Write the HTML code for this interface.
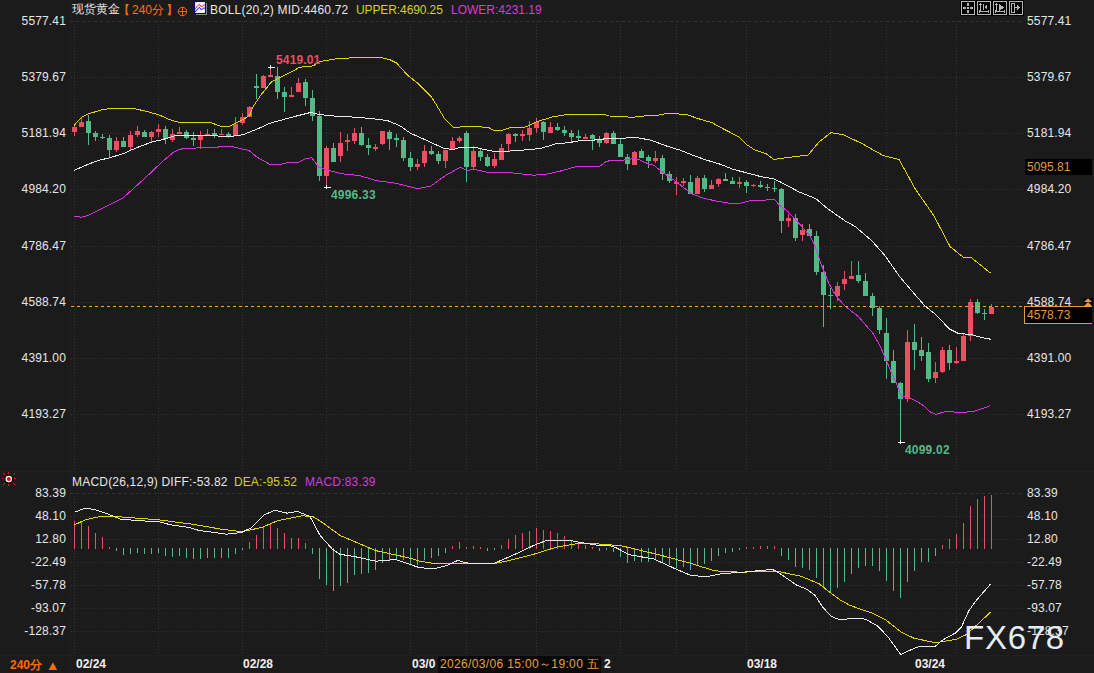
<!DOCTYPE html>
<html><head><meta charset="utf-8">
<style>
html,body{margin:0;padding:0;}
body{width:1094px;height:673px;overflow:hidden;background:#1b1b1b;position:relative;font-family:"Liberation Sans",sans-serif;font-size:12px;color:#e6e6e6;}
svg.chart{position:absolute;left:0;top:0;}
.t{position:absolute;white-space:nowrap;line-height:16px;}
.ll{position:absolute;right:1028px;letter-spacing:0.15px;white-space:nowrap;line-height:16px;text-align:right;}
.rl{position:absolute;left:1027px;letter-spacing:0.15px;white-space:nowrap;line-height:16px;}
.ic{position:absolute;top:1px;width:12px;height:12px;border:1px solid #a0a0a0;background:#000;box-shadow:0 0 0 1px #0a0a0a;}
</style></head><body>
<svg class="chart" width="1094" height="673" viewBox="0 0 1094 673">
<rect x="70" y="0" width="1" height="673" fill="#202020"/>
<rect x="0" y="471" width="1094" height="1" fill="#202020"/>
<rect x="0" y="655" width="1094" height="1" fill="#202020"/>
<g shape-rendering="crispEdges"><line x1="70" y1="21.5" x2="1024" y2="21.5" stroke="#343434" stroke-width="1" stroke-dasharray="3 3"/><line x1="71" y1="77.5" x2="1024" y2="77.5" stroke="#343434" stroke-width="1" stroke-dasharray="1 2"/><line x1="71" y1="133.5" x2="1024" y2="133.5" stroke="#343434" stroke-width="1" stroke-dasharray="1 2"/><line x1="71" y1="189.5" x2="1024" y2="189.5" stroke="#343434" stroke-width="1" stroke-dasharray="1 2"/><line x1="71" y1="246.5" x2="1024" y2="246.5" stroke="#343434" stroke-width="1" stroke-dasharray="1 2"/><line x1="71" y1="302.5" x2="1024" y2="302.5" stroke="#343434" stroke-width="1" stroke-dasharray="1 2"/><line x1="71" y1="358.5" x2="1024" y2="358.5" stroke="#343434" stroke-width="1" stroke-dasharray="1 2"/><line x1="71" y1="414.5" x2="1024" y2="414.5" stroke="#343434" stroke-width="1" stroke-dasharray="1 2"/><line x1="74.5" y1="21" x2="74.5" y2="469" stroke="#343434" stroke-width="1" stroke-dasharray="1 2"/><line x1="158.5" y1="21" x2="158.5" y2="469" stroke="#343434" stroke-width="1" stroke-dasharray="1 2"/><line x1="242.5" y1="21" x2="242.5" y2="469" stroke="#343434" stroke-width="1" stroke-dasharray="1 2"/><line x1="326.5" y1="21" x2="326.5" y2="469" stroke="#343434" stroke-width="1" stroke-dasharray="1 2"/><line x1="410.5" y1="21" x2="410.5" y2="469" stroke="#343434" stroke-width="1" stroke-dasharray="1 2"/><line x1="466.5" y1="21" x2="466.5" y2="469" stroke="#343434" stroke-width="1" stroke-dasharray="1 2"/><line x1="536.5" y1="21" x2="536.5" y2="469" stroke="#343434" stroke-width="1" stroke-dasharray="1 2"/><line x1="620.5" y1="21" x2="620.5" y2="469" stroke="#343434" stroke-width="1" stroke-dasharray="1 2"/><line x1="676.5" y1="21" x2="676.5" y2="469" stroke="#343434" stroke-width="1" stroke-dasharray="1 2"/><line x1="746.5" y1="21" x2="746.5" y2="469" stroke="#343434" stroke-width="1" stroke-dasharray="1 2"/><line x1="830.5" y1="21" x2="830.5" y2="469" stroke="#343434" stroke-width="1" stroke-dasharray="1 2"/><line x1="886.5" y1="21" x2="886.5" y2="469" stroke="#343434" stroke-width="1" stroke-dasharray="1 2"/><line x1="956.5" y1="21" x2="956.5" y2="469" stroke="#343434" stroke-width="1" stroke-dasharray="1 2"/><line x1="70" y1="493.5" x2="1024" y2="493.5" stroke="#343434" stroke-width="1" stroke-dasharray="3 3"/><line x1="71" y1="516.5" x2="1024" y2="516.5" stroke="#343434" stroke-width="1" stroke-dasharray="1 2"/><line x1="71" y1="539.5" x2="1024" y2="539.5" stroke="#343434" stroke-width="1" stroke-dasharray="1 2"/><line x1="71" y1="562.5" x2="1024" y2="562.5" stroke="#343434" stroke-width="1" stroke-dasharray="1 2"/><line x1="71" y1="585.5" x2="1024" y2="585.5" stroke="#343434" stroke-width="1" stroke-dasharray="1 2"/><line x1="71" y1="608.5" x2="1024" y2="608.5" stroke="#343434" stroke-width="1" stroke-dasharray="1 2"/><line x1="71" y1="631.5" x2="1024" y2="631.5" stroke="#343434" stroke-width="1" stroke-dasharray="1 2"/><line x1="74.5" y1="493" x2="74.5" y2="654" stroke="#343434" stroke-width="1" stroke-dasharray="1 2"/><line x1="158.5" y1="493" x2="158.5" y2="654" stroke="#343434" stroke-width="1" stroke-dasharray="1 2"/><line x1="242.5" y1="493" x2="242.5" y2="654" stroke="#343434" stroke-width="1" stroke-dasharray="1 2"/><line x1="326.5" y1="493" x2="326.5" y2="654" stroke="#343434" stroke-width="1" stroke-dasharray="1 2"/><line x1="410.5" y1="493" x2="410.5" y2="654" stroke="#343434" stroke-width="1" stroke-dasharray="1 2"/><line x1="466.5" y1="493" x2="466.5" y2="654" stroke="#343434" stroke-width="1" stroke-dasharray="1 2"/><line x1="536.5" y1="493" x2="536.5" y2="654" stroke="#343434" stroke-width="1" stroke-dasharray="1 2"/><line x1="620.5" y1="493" x2="620.5" y2="654" stroke="#343434" stroke-width="1" stroke-dasharray="1 2"/><line x1="676.5" y1="493" x2="676.5" y2="654" stroke="#343434" stroke-width="1" stroke-dasharray="1 2"/><line x1="746.5" y1="493" x2="746.5" y2="654" stroke="#343434" stroke-width="1" stroke-dasharray="1 2"/><line x1="830.5" y1="493" x2="830.5" y2="654" stroke="#343434" stroke-width="1" stroke-dasharray="1 2"/><line x1="886.5" y1="493" x2="886.5" y2="654" stroke="#343434" stroke-width="1" stroke-dasharray="1 2"/><line x1="956.5" y1="493" x2="956.5" y2="654" stroke="#343434" stroke-width="1" stroke-dasharray="1 2"/><line x1="1025.5" y1="21" x2="1025.5" y2="469" stroke="#232323" stroke-width="1" stroke-dasharray="1 10"/><line x1="1025.5" y1="493" x2="1025.5" y2="654" stroke="#232323" stroke-width="1" stroke-dasharray="1 10"/></g>
<g shape-rendering="crispEdges"><rect x="74" y="124" width="1" height="12" fill="#ea5062"/><rect x="72" y="127" width="5" height="5" fill="#ea5062"/><rect x="81" y="118" width="1" height="9" fill="#ea5062"/><rect x="79" y="122" width="5" height="5" fill="#ea5062"/><rect x="88" y="115" width="1" height="30" fill="#54b987"/><rect x="86" y="121" width="5" height="12" fill="#54b987"/><rect x="95" y="131" width="1" height="10" fill="#54b987"/><rect x="93" y="133" width="5" height="4" fill="#54b987"/><rect x="102" y="134" width="1" height="5" fill="#54b987"/><rect x="100" y="137" width="5" height="1" fill="#54b987"/><rect x="109" y="135" width="1" height="23" fill="#54b987"/><rect x="107" y="138" width="5" height="12" fill="#54b987"/><rect x="116" y="137" width="1" height="15" fill="#ea5062"/><rect x="114" y="141" width="5" height="9" fill="#ea5062"/><rect x="123" y="137" width="1" height="10" fill="#54b987"/><rect x="121" y="141" width="5" height="6" fill="#54b987"/><rect x="130" y="131" width="1" height="19" fill="#ea5062"/><rect x="128" y="135" width="5" height="12" fill="#ea5062"/><rect x="137" y="126" width="1" height="11" fill="#ea5062"/><rect x="135" y="131" width="5" height="4" fill="#ea5062"/><rect x="144" y="130" width="1" height="7" fill="#54b987"/><rect x="142" y="132" width="5" height="5" fill="#54b987"/><rect x="151" y="131" width="1" height="11" fill="#ea5062"/><rect x="149" y="132" width="5" height="5" fill="#ea5062"/><rect x="158" y="124" width="1" height="13" fill="#ea5062"/><rect x="156" y="129" width="5" height="3" fill="#ea5062"/><rect x="165" y="126" width="1" height="18" fill="#54b987"/><rect x="163" y="129" width="5" height="10" fill="#54b987"/><rect x="172" y="129" width="1" height="13" fill="#ea5062"/><rect x="170" y="134" width="5" height="6" fill="#ea5062"/><rect x="179" y="127" width="1" height="7" fill="#ea5062"/><rect x="177" y="132" width="5" height="2" fill="#ea5062"/><rect x="186" y="130" width="1" height="9" fill="#54b987"/><rect x="184" y="132" width="5" height="6" fill="#54b987"/><rect x="193" y="132" width="1" height="14" fill="#54b987"/><rect x="191" y="138" width="5" height="2" fill="#54b987"/><rect x="200" y="131" width="1" height="18" fill="#ea5062"/><rect x="198" y="136" width="5" height="4" fill="#ea5062"/><rect x="207" y="129" width="1" height="6" fill="#ea5062"/><rect x="205" y="134" width="5" height="1" fill="#ea5062"/><rect x="214" y="129" width="1" height="9" fill="#54b987"/><rect x="212" y="133" width="5" height="2" fill="#54b987"/><rect x="221" y="129" width="1" height="6" fill="#ea5062"/><rect x="219" y="134" width="5" height="1" fill="#ea5062"/><rect x="228" y="132" width="1" height="6" fill="#54b987"/><rect x="226" y="134" width="5" height="3" fill="#54b987"/><rect x="235" y="117" width="1" height="19" fill="#ea5062"/><rect x="233" y="124" width="5" height="12" fill="#ea5062"/><rect x="242" y="113" width="1" height="12" fill="#ea5062"/><rect x="240" y="117" width="5" height="6" fill="#ea5062"/><rect x="249" y="106" width="1" height="11" fill="#ea5062"/><rect x="247" y="107" width="5" height="10" fill="#ea5062"/><rect x="256" y="74" width="1" height="25" fill="#54b987"/><rect x="254" y="86" width="5" height="2" fill="#54b987"/><rect x="263" y="75" width="1" height="13" fill="#ea5062"/><rect x="261" y="76" width="5" height="12" fill="#ea5062"/><rect x="270" y="68" width="1" height="9" fill="#ea5062"/><rect x="268" y="75" width="5" height="2" fill="#ea5062"/><rect x="277" y="67" width="1" height="32" fill="#54b987"/><rect x="275" y="76" width="5" height="16" fill="#54b987"/><rect x="284" y="87" width="1" height="25" fill="#54b987"/><rect x="282" y="92" width="5" height="5" fill="#54b987"/><rect x="291" y="87" width="1" height="10" fill="#ea5062"/><rect x="289" y="95" width="5" height="2" fill="#ea5062"/><rect x="298" y="78" width="1" height="14" fill="#ea5062"/><rect x="296" y="83" width="5" height="9" fill="#ea5062"/><rect x="305" y="79" width="1" height="27" fill="#54b987"/><rect x="303" y="82" width="5" height="16" fill="#54b987"/><rect x="312" y="90" width="1" height="31" fill="#54b987"/><rect x="310" y="98" width="5" height="18" fill="#54b987"/><rect x="319" y="111" width="1" height="70" fill="#54b987"/><rect x="317" y="116" width="5" height="60" fill="#54b987"/><rect x="326" y="146" width="1" height="41" fill="#ea5062"/><rect x="324" y="148" width="5" height="28" fill="#ea5062"/><rect x="333" y="143" width="1" height="19" fill="#54b987"/><rect x="331" y="148" width="5" height="14" fill="#54b987"/><rect x="340" y="132" width="1" height="30" fill="#ea5062"/><rect x="338" y="143" width="5" height="13" fill="#ea5062"/><rect x="347" y="134" width="1" height="17" fill="#ea5062"/><rect x="345" y="140" width="5" height="2" fill="#ea5062"/><rect x="354" y="128" width="1" height="16" fill="#ea5062"/><rect x="352" y="133" width="5" height="8" fill="#ea5062"/><rect x="361" y="127" width="1" height="19" fill="#54b987"/><rect x="359" y="133" width="5" height="12" fill="#54b987"/><rect x="368" y="138" width="1" height="17" fill="#54b987"/><rect x="366" y="145" width="5" height="3" fill="#54b987"/><rect x="375" y="144" width="1" height="7" fill="#ea5062"/><rect x="373" y="147" width="5" height="2" fill="#ea5062"/><rect x="382" y="131" width="1" height="14" fill="#ea5062"/><rect x="380" y="131" width="5" height="13" fill="#ea5062"/><rect x="389" y="130" width="1" height="20" fill="#54b987"/><rect x="387" y="132" width="5" height="7" fill="#54b987"/><rect x="396" y="134" width="1" height="13" fill="#54b987"/><rect x="394" y="138" width="5" height="2" fill="#54b987"/><rect x="403" y="137" width="1" height="24" fill="#54b987"/><rect x="401" y="140" width="5" height="18" fill="#54b987"/><rect x="410" y="152" width="1" height="19" fill="#54b987"/><rect x="408" y="158" width="5" height="9" fill="#54b987"/><rect x="417" y="159" width="1" height="11" fill="#ea5062"/><rect x="415" y="164" width="5" height="3" fill="#ea5062"/><rect x="424" y="145" width="1" height="22" fill="#ea5062"/><rect x="422" y="151" width="5" height="12" fill="#ea5062"/><rect x="431" y="146" width="1" height="9" fill="#54b987"/><rect x="429" y="151" width="5" height="3" fill="#54b987"/><rect x="438" y="151" width="1" height="13" fill="#54b987"/><rect x="436" y="154" width="5" height="7" fill="#54b987"/><rect x="445" y="150" width="1" height="18" fill="#ea5062"/><rect x="443" y="150" width="5" height="11" fill="#ea5062"/><rect x="452" y="137" width="1" height="12" fill="#ea5062"/><rect x="450" y="141" width="5" height="8" fill="#ea5062"/><rect x="459" y="136" width="1" height="7" fill="#ea5062"/><rect x="457" y="138" width="5" height="3" fill="#ea5062"/><rect x="466" y="131" width="1" height="51" fill="#54b987"/><rect x="464" y="133" width="5" height="34" fill="#54b987"/><rect x="473" y="146" width="1" height="23" fill="#ea5062"/><rect x="471" y="151" width="5" height="16" fill="#ea5062"/><rect x="480" y="149" width="1" height="12" fill="#54b987"/><rect x="478" y="151" width="5" height="6" fill="#54b987"/><rect x="487" y="154" width="1" height="13" fill="#54b987"/><rect x="485" y="157" width="5" height="9" fill="#54b987"/><rect x="494" y="153" width="1" height="15" fill="#ea5062"/><rect x="492" y="159" width="5" height="7" fill="#ea5062"/><rect x="501" y="144" width="1" height="16" fill="#ea5062"/><rect x="499" y="148" width="5" height="12" fill="#ea5062"/><rect x="508" y="133" width="1" height="19" fill="#ea5062"/><rect x="506" y="134" width="5" height="10" fill="#ea5062"/><rect x="515" y="133" width="1" height="9" fill="#54b987"/><rect x="513" y="134" width="5" height="2" fill="#54b987"/><rect x="522" y="130" width="1" height="11" fill="#ea5062"/><rect x="520" y="134" width="5" height="2" fill="#ea5062"/><rect x="529" y="121" width="1" height="20" fill="#ea5062"/><rect x="527" y="128" width="5" height="7" fill="#ea5062"/><rect x="536" y="118" width="1" height="15" fill="#ea5062"/><rect x="534" y="122" width="5" height="6" fill="#ea5062"/><rect x="543" y="121" width="1" height="19" fill="#54b987"/><rect x="541" y="122" width="5" height="10" fill="#54b987"/><rect x="550" y="122" width="1" height="11" fill="#ea5062"/><rect x="548" y="127" width="5" height="6" fill="#ea5062"/><rect x="557" y="123" width="1" height="8" fill="#54b987"/><rect x="555" y="127" width="5" height="3" fill="#54b987"/><rect x="564" y="126" width="1" height="10" fill="#54b987"/><rect x="562" y="130" width="5" height="3" fill="#54b987"/><rect x="571" y="130" width="1" height="12" fill="#54b987"/><rect x="569" y="133" width="5" height="4" fill="#54b987"/><rect x="578" y="130" width="1" height="11" fill="#54b987"/><rect x="576" y="136" width="5" height="2" fill="#54b987"/><rect x="585" y="134" width="1" height="5" fill="#ea5062"/><rect x="583" y="137" width="5" height="2" fill="#ea5062"/><rect x="592" y="134" width="1" height="16" fill="#54b987"/><rect x="590" y="135" width="5" height="4" fill="#54b987"/><rect x="599" y="136" width="1" height="11" fill="#54b987"/><rect x="597" y="140" width="5" height="3" fill="#54b987"/><rect x="606" y="132" width="1" height="12" fill="#ea5062"/><rect x="604" y="133" width="5" height="10" fill="#ea5062"/><rect x="613" y="131" width="1" height="13" fill="#54b987"/><rect x="611" y="133" width="5" height="11" fill="#54b987"/><rect x="620" y="139" width="1" height="18" fill="#54b987"/><rect x="618" y="144" width="5" height="13" fill="#54b987"/><rect x="627" y="154" width="1" height="16" fill="#54b987"/><rect x="625" y="157" width="5" height="7" fill="#54b987"/><rect x="634" y="151" width="1" height="14" fill="#ea5062"/><rect x="632" y="152" width="5" height="13" fill="#ea5062"/><rect x="641" y="149" width="1" height="9" fill="#54b987"/><rect x="639" y="151" width="5" height="7" fill="#54b987"/><rect x="648" y="155" width="1" height="13" fill="#54b987"/><rect x="646" y="157" width="5" height="4" fill="#54b987"/><rect x="655" y="151" width="1" height="12" fill="#ea5062"/><rect x="653" y="158" width="5" height="3" fill="#ea5062"/><rect x="662" y="155" width="1" height="25" fill="#54b987"/><rect x="660" y="158" width="5" height="16" fill="#54b987"/><rect x="669" y="171" width="1" height="12" fill="#54b987"/><rect x="667" y="174" width="5" height="7" fill="#54b987"/><rect x="676" y="177" width="1" height="18" fill="#ea5062"/><rect x="674" y="182" width="5" height="2" fill="#ea5062"/><rect x="683" y="178" width="1" height="8" fill="#ea5062"/><rect x="681" y="181" width="5" height="2" fill="#ea5062"/><rect x="690" y="175" width="1" height="19" fill="#54b987"/><rect x="688" y="182" width="5" height="12" fill="#54b987"/><rect x="697" y="176" width="1" height="18" fill="#ea5062"/><rect x="695" y="178" width="5" height="16" fill="#ea5062"/><rect x="704" y="175" width="1" height="17" fill="#54b987"/><rect x="702" y="178" width="5" height="11" fill="#54b987"/><rect x="711" y="180" width="1" height="9" fill="#ea5062"/><rect x="709" y="185" width="5" height="4" fill="#ea5062"/><rect x="718" y="178" width="1" height="9" fill="#ea5062"/><rect x="716" y="179" width="5" height="5" fill="#ea5062"/><rect x="725" y="173" width="1" height="8" fill="#54b987"/><rect x="723" y="179" width="5" height="2" fill="#54b987"/><rect x="732" y="177" width="1" height="7" fill="#54b987"/><rect x="730" y="181" width="5" height="3" fill="#54b987"/><rect x="739" y="177" width="1" height="11" fill="#ea5062"/><rect x="737" y="182" width="5" height="2" fill="#ea5062"/><rect x="746" y="180" width="1" height="13" fill="#54b987"/><rect x="744" y="182" width="5" height="4" fill="#54b987"/><rect x="753" y="184" width="1" height="3" fill="#ea5062"/><rect x="751" y="185" width="5" height="1" fill="#ea5062"/><rect x="760" y="181" width="1" height="7" fill="#54b987"/><rect x="758" y="185" width="5" height="2" fill="#54b987"/><rect x="767" y="184" width="1" height="7" fill="#54b987"/><rect x="765" y="187" width="5" height="1" fill="#54b987"/><rect x="774" y="181" width="1" height="11" fill="#54b987"/><rect x="772" y="188" width="5" height="1" fill="#54b987"/><rect x="781" y="188" width="1" height="45" fill="#54b987"/><rect x="779" y="189" width="5" height="32" fill="#54b987"/><rect x="788" y="214" width="1" height="13" fill="#ea5062"/><rect x="786" y="218" width="5" height="3" fill="#ea5062"/><rect x="795" y="214" width="1" height="27" fill="#54b987"/><rect x="793" y="218" width="5" height="20" fill="#54b987"/><rect x="802" y="224" width="1" height="17" fill="#ea5062"/><rect x="800" y="230" width="5" height="5" fill="#ea5062"/><rect x="809" y="224" width="1" height="12" fill="#54b987"/><rect x="807" y="229" width="5" height="7" fill="#54b987"/><rect x="816" y="231" width="1" height="44" fill="#54b987"/><rect x="814" y="236" width="5" height="36" fill="#54b987"/><rect x="823" y="265" width="1" height="62" fill="#54b987"/><rect x="821" y="272" width="5" height="23" fill="#54b987"/><rect x="830" y="288" width="1" height="21" fill="#54b987"/><rect x="828" y="295" width="5" height="1" fill="#54b987"/><rect x="837" y="282" width="1" height="19" fill="#ea5062"/><rect x="835" y="286" width="5" height="10" fill="#ea5062"/><rect x="844" y="271" width="1" height="19" fill="#ea5062"/><rect x="842" y="279" width="5" height="5" fill="#ea5062"/><rect x="851" y="261" width="1" height="18" fill="#ea5062"/><rect x="849" y="276" width="5" height="3" fill="#ea5062"/><rect x="858" y="261" width="1" height="22" fill="#54b987"/><rect x="856" y="275" width="5" height="6" fill="#54b987"/><rect x="865" y="273" width="1" height="23" fill="#54b987"/><rect x="863" y="281" width="5" height="15" fill="#54b987"/><rect x="872" y="293" width="1" height="23" fill="#54b987"/><rect x="870" y="296" width="5" height="12" fill="#54b987"/><rect x="879" y="306" width="1" height="28" fill="#54b987"/><rect x="877" y="308" width="5" height="22" fill="#54b987"/><rect x="886" y="318" width="1" height="61" fill="#54b987"/><rect x="884" y="333" width="5" height="28" fill="#54b987"/><rect x="893" y="350" width="1" height="33" fill="#54b987"/><rect x="891" y="361" width="5" height="22" fill="#54b987"/><rect x="900" y="382" width="1" height="60" fill="#54b987"/><rect x="898" y="383" width="5" height="16" fill="#54b987"/><rect x="907" y="330" width="1" height="72" fill="#ea5062"/><rect x="905" y="342" width="5" height="57" fill="#ea5062"/><rect x="914" y="324" width="1" height="46" fill="#54b987"/><rect x="912" y="342" width="5" height="8" fill="#54b987"/><rect x="921" y="337" width="1" height="24" fill="#54b987"/><rect x="919" y="350" width="5" height="6" fill="#54b987"/><rect x="928" y="343" width="1" height="39" fill="#54b987"/><rect x="926" y="352" width="5" height="27" fill="#54b987"/><rect x="935" y="362" width="1" height="21" fill="#ea5062"/><rect x="933" y="372" width="5" height="6" fill="#ea5062"/><rect x="942" y="347" width="1" height="26" fill="#ea5062"/><rect x="940" y="350" width="5" height="22" fill="#ea5062"/><rect x="949" y="345" width="1" height="25" fill="#54b987"/><rect x="947" y="350" width="5" height="13" fill="#54b987"/><rect x="956" y="347" width="1" height="17" fill="#ea5062"/><rect x="954" y="361" width="5" height="2" fill="#ea5062"/><rect x="963" y="333" width="1" height="28" fill="#ea5062"/><rect x="961" y="336" width="5" height="25" fill="#ea5062"/><rect x="970" y="299" width="1" height="42" fill="#ea5062"/><rect x="968" y="302" width="5" height="34" fill="#ea5062"/><rect x="977" y="299" width="1" height="15" fill="#54b987"/><rect x="975" y="302" width="5" height="11" fill="#54b987"/><rect x="984" y="309" width="1" height="11" fill="#54b987"/><rect x="982" y="313" width="5" height="1" fill="#54b987"/><rect x="991" y="304" width="1" height="10" fill="#ea5062"/><rect x="989" y="307" width="5" height="7" fill="#ea5062"/></g>
<polyline points="74.0,125.5 81.5,117.3 88.1,114.0 101.3,109.9 112.8,108.2 132.5,108.2 145.7,111.2 158.8,114.8 172.0,120.6 178.6,122.2 209.9,122.2 219.7,126.0 229.6,126.3 234.5,123.9 244.4,118.9 250.0,114.5 252.7,107.2 260.8,95.1 271.5,81.8 283.5,75.7 292.9,71.0 299.6,67.3 313.2,65.9 319.7,61.5 337.3,58.6 365.8,57.1 379.0,57.1 390.0,59.7 396.5,63.0 407.5,75.1 418.5,83.9 431.6,97.0 444.8,119.0 453.6,127.3 466.7,126.7 475.9,126.4 489.0,127.8 493.7,130.2 502.0,130.2 511.5,127.3 523.4,127.3 528.2,126.1 535.3,122.2 548.0,118.3 553.5,116.6 567.8,114.5 582.0,114.0 602.2,114.0 609.3,116.0 620.0,116.5 632.3,117.3 640.0,116.3 658.7,115.0 666.7,113.4 686.8,114.4 696.1,118.0 712.2,122.7 725.6,130.1 738.9,136.8 747.0,144.8 755.0,150.1 765.7,153.5 773.7,159.5 786.8,157.6 808.2,155.0 818.9,142.1 830.9,132.7 842.9,134.6 861.7,143.4 883.1,155.5 899.1,159.5 915.2,188.9 933.9,215.7 950.0,246.5 963.3,257.2 971.4,257.7 990.6,273.2" fill="none" stroke="#e1d400" stroke-width="1" shape-rendering="crispEdges"/>
<polyline points="74.0,170.3 88.0,164.4 97.4,160.7 110.0,157.7 124.8,153.1 130.0,150.5 138.6,147.0 154.0,141.2 158.9,140.6 166.0,138.6 175.9,135.5 216.9,135.5 218.7,136.4 231.2,136.4 243.4,134.6 248.2,132.6 256.8,129.2 270.1,123.2 283.5,119.5 296.9,115.9 311.0,112.4 318.2,114.4 335.3,116.1 359.2,117.4 376.3,119.1 387.8,120.7 400.0,125.8 410.7,133.4 420.0,137.4 444.1,148.5 453.5,149.4 460.2,147.4 474.9,147.4 493.6,151.4 504.3,151.4 527.0,149.8 540.0,148.5 548.0,146.3 555.9,143.7 567.8,142.8 582.0,140.4 601.0,139.8 605.8,138.3 620.0,138.5 634.8,137.3 650.7,140.1 666.7,146.1 680.1,150.1 693.5,155.5 706.8,160.2 720.2,164.2 733.6,169.5 747.0,172.9 760.3,176.5 773.7,178.9 780.0,181.8 799.4,192.1 815.8,198.6 827.2,208.4 845.2,221.0 855.0,226.4 871.4,240.3 884.5,255.0 900.0,277.1 910.8,289.7 924.2,305.1 936.2,315.1 949.4,328.9 958.3,333.4 971.7,334.6 980.6,337.3 991.0,339.3" fill="none" stroke="#e8e8e8" stroke-width="1" shape-rendering="crispEdges"/>
<polyline points="74.0,216.4 81.4,217.1 88.3,215.5 102.9,208.2 122.4,198.5 133.3,188.7 148.0,175.3 161.4,162.5 173.5,152.2 179.6,149.1 190.0,148.6 200.0,147.6 217.8,147.6 219.0,146.4 231.5,146.4 241.6,149.0 248.7,150.4 257.0,157.1 270.1,164.5 280.8,164.5 287.9,162.3 298.6,162.3 304.6,159.1 311.7,157.6 318.8,167.1 328.5,170.4 342.1,173.8 359.2,175.5 376.3,180.6 392.0,182.7 400.0,184.2 417.4,188.6 430.7,186.2 445.5,175.5 460.2,167.2 466.8,170.4 474.9,169.5 487.0,172.2 511.0,172.8 533.7,175.2 548.0,173.9 561.8,170.7 577.3,166.3 599.8,166.3 605.8,161.8 610.5,160.4 620.0,160.5 634.7,158.5 639.4,159.7 649.6,164.5 653.7,165.2 664.4,173.5 676.3,181.8 691.7,193.9 704.0,198.3 715.9,201.0 730.1,203.4 739.6,203.4 749.1,201.0 763.4,200.4 773.4,199.1 775.3,200.2 780.0,205.7 788.0,211.7 798.9,223.2 810.0,235.7 815.6,247.7 821.2,264.5 828.6,283.0 836.0,296.1 845.3,306.3 858.3,316.5 868.0,327.7 873.4,333.9 880.0,345.9 890.5,370.3 896.8,384.3 901.5,396.5 909.3,397.6 918.6,402.3 925.0,406.9 929.4,411.5 936.0,414.4 942.6,412.4 946.9,411.3 952.8,411.3 954.3,412.4 966.7,412.4 968.1,411.3 974.0,411.3 979.1,409.5 983.5,408.4 990.1,405.5" fill="none" stroke="#d535d8" stroke-width="1" shape-rendering="crispEdges"/>
<g shape-rendering="crispEdges" fill="#f0f0f0"><rect x="268" y="67" width="7" height="1"/><rect x="270" y="65" width="1" height="4"/><rect x="324" y="187" width="7" height="1"/><rect x="326" y="185" width="1" height="4"/><rect x="898" y="442" width="7" height="1"/><rect x="900" y="440" width="1" height="4"/></g>
<line x1="71" y1="306.5" x2="1024" y2="306.5" stroke="#eea23c" stroke-width="1" stroke-dasharray="3 3" shape-rendering="crispEdges"/>
<g shape-rendering="crispEdges"><rect x="74" y="521" width="1" height="28" fill="#ea5062"/><rect x="81" y="522" width="1" height="27" fill="#ea5062"/><rect x="88" y="526" width="1" height="23" fill="#ea5062"/><rect x="95" y="533" width="1" height="16" fill="#ea5062"/><rect x="102" y="537" width="1" height="12" fill="#ea5062"/><rect x="109" y="547" width="1" height="2" fill="#ea5062"/><rect x="116" y="548" width="1" height="3" fill="#54b987"/><rect x="123" y="548" width="1" height="7" fill="#54b987"/><rect x="130" y="548" width="1" height="6" fill="#54b987"/><rect x="137" y="548" width="1" height="5" fill="#54b987"/><rect x="144" y="548" width="1" height="6" fill="#54b987"/><rect x="151" y="548" width="1" height="6" fill="#54b987"/><rect x="158" y="548" width="1" height="5" fill="#54b987"/><rect x="165" y="548" width="1" height="8" fill="#54b987"/><rect x="172" y="548" width="1" height="9" fill="#54b987"/><rect x="179" y="548" width="1" height="8" fill="#54b987"/><rect x="186" y="548" width="1" height="10" fill="#54b987"/><rect x="193" y="548" width="1" height="11" fill="#54b987"/><rect x="200" y="548" width="1" height="11" fill="#54b987"/><rect x="207" y="548" width="1" height="10" fill="#54b987"/><rect x="214" y="548" width="1" height="10" fill="#54b987"/><rect x="221" y="548" width="1" height="10" fill="#54b987"/><rect x="228" y="548" width="1" height="10" fill="#54b987"/><rect x="235" y="548" width="1" height="6" fill="#54b987"/><rect x="242" y="548" width="1" height="2" fill="#54b987"/><rect x="249" y="542" width="1" height="7" fill="#ea5062"/><rect x="256" y="535" width="1" height="14" fill="#ea5062"/><rect x="263" y="527" width="1" height="22" fill="#ea5062"/><rect x="270" y="523" width="1" height="26" fill="#ea5062"/><rect x="277" y="528" width="1" height="21" fill="#ea5062"/><rect x="284" y="533" width="1" height="16" fill="#ea5062"/><rect x="291" y="538" width="1" height="11" fill="#ea5062"/><rect x="298" y="538" width="1" height="11" fill="#ea5062"/><rect x="305" y="543" width="1" height="6" fill="#ea5062"/><rect x="312" y="548" width="1" height="6" fill="#54b987"/><rect x="319" y="548" width="1" height="31" fill="#54b987"/><rect x="326" y="548" width="1" height="37" fill="#54b987"/><rect x="333" y="548" width="1" height="43" fill="#54b987"/><rect x="340" y="548" width="1" height="38" fill="#54b987"/><rect x="347" y="548" width="1" height="35" fill="#54b987"/><rect x="354" y="548" width="1" height="27" fill="#54b987"/><rect x="361" y="548" width="1" height="26" fill="#54b987"/><rect x="368" y="548" width="1" height="25" fill="#54b987"/><rect x="375" y="548" width="1" height="22" fill="#54b987"/><rect x="382" y="548" width="1" height="15" fill="#54b987"/><rect x="389" y="548" width="1" height="12" fill="#54b987"/><rect x="396" y="548" width="1" height="11" fill="#54b987"/><rect x="403" y="548" width="1" height="12" fill="#54b987"/><rect x="410" y="548" width="1" height="16" fill="#54b987"/><rect x="417" y="548" width="1" height="17" fill="#54b987"/><rect x="424" y="548" width="1" height="12" fill="#54b987"/><rect x="431" y="548" width="1" height="10" fill="#54b987"/><rect x="438" y="548" width="1" height="8" fill="#54b987"/><rect x="445" y="548" width="1" height="5" fill="#54b987"/><rect x="452" y="546" width="1" height="3" fill="#ea5062"/><rect x="459" y="542" width="1" height="7" fill="#ea5062"/><rect x="466" y="547" width="1" height="2" fill="#ea5062"/><rect x="473" y="546" width="1" height="3" fill="#ea5062"/><rect x="480" y="547" width="1" height="2" fill="#ea5062"/><rect x="487" y="548" width="1" height="3" fill="#54b987"/><rect x="494" y="548" width="1" height="2" fill="#54b987"/><rect x="501" y="545" width="1" height="4" fill="#ea5062"/><rect x="508" y="539" width="1" height="10" fill="#ea5062"/><rect x="515" y="535" width="1" height="14" fill="#ea5062"/><rect x="522" y="533" width="1" height="16" fill="#ea5062"/><rect x="529" y="531" width="1" height="18" fill="#ea5062"/><rect x="536" y="528" width="1" height="21" fill="#ea5062"/><rect x="543" y="530" width="1" height="19" fill="#ea5062"/><rect x="550" y="531" width="1" height="18" fill="#ea5062"/><rect x="557" y="533" width="1" height="16" fill="#ea5062"/><rect x="564" y="536" width="1" height="13" fill="#ea5062"/><rect x="571" y="540" width="1" height="9" fill="#ea5062"/><rect x="578" y="543" width="1" height="6" fill="#ea5062"/><rect x="585" y="545" width="1" height="4" fill="#ea5062"/><rect x="592" y="547" width="1" height="2" fill="#ea5062"/><rect x="599" y="548" width="1" height="3" fill="#54b987"/><rect x="606" y="548" width="1" height="2" fill="#54b987"/><rect x="613" y="548" width="1" height="4" fill="#54b987"/><rect x="620" y="548" width="1" height="9" fill="#54b987"/><rect x="627" y="548" width="1" height="15" fill="#54b987"/><rect x="634" y="548" width="1" height="13" fill="#54b987"/><rect x="641" y="548" width="1" height="14" fill="#54b987"/><rect x="648" y="548" width="1" height="14" fill="#54b987"/><rect x="655" y="548" width="1" height="12" fill="#54b987"/><rect x="662" y="548" width="1" height="15" fill="#54b987"/><rect x="669" y="548" width="1" height="17" fill="#54b987"/><rect x="676" y="548" width="1" height="20" fill="#54b987"/><rect x="683" y="548" width="1" height="19" fill="#54b987"/><rect x="690" y="548" width="1" height="22" fill="#54b987"/><rect x="697" y="548" width="1" height="17" fill="#54b987"/><rect x="704" y="548" width="1" height="16" fill="#54b987"/><rect x="711" y="548" width="1" height="13" fill="#54b987"/><rect x="718" y="548" width="1" height="8" fill="#54b987"/><rect x="725" y="548" width="1" height="5" fill="#54b987"/><rect x="732" y="548" width="1" height="4" fill="#54b987"/><rect x="739" y="548" width="1" height="2" fill="#54b987"/><rect x="746" y="547" width="1" height="2" fill="#ea5062"/><rect x="753" y="547" width="1" height="2" fill="#ea5062"/><rect x="760" y="546" width="1" height="3" fill="#ea5062"/><rect x="767" y="546" width="1" height="3" fill="#ea5062"/><rect x="774" y="546" width="1" height="3" fill="#ea5062"/><rect x="781" y="548" width="1" height="8" fill="#54b987"/><rect x="788" y="548" width="1" height="12" fill="#54b987"/><rect x="795" y="548" width="1" height="19" fill="#54b987"/><rect x="802" y="548" width="1" height="20" fill="#54b987"/><rect x="809" y="548" width="1" height="22" fill="#54b987"/><rect x="816" y="548" width="1" height="30" fill="#54b987"/><rect x="823" y="548" width="1" height="39" fill="#54b987"/><rect x="830" y="548" width="1" height="44" fill="#54b987"/><rect x="837" y="548" width="1" height="40" fill="#54b987"/><rect x="844" y="548" width="1" height="34" fill="#54b987"/><rect x="851" y="548" width="1" height="26" fill="#54b987"/><rect x="858" y="548" width="1" height="20" fill="#54b987"/><rect x="865" y="548" width="1" height="18" fill="#54b987"/><rect x="872" y="548" width="1" height="18" fill="#54b987"/><rect x="879" y="548" width="1" height="23" fill="#54b987"/><rect x="886" y="548" width="1" height="33" fill="#54b987"/><rect x="893" y="548" width="1" height="43" fill="#54b987"/><rect x="900" y="548" width="1" height="50" fill="#54b987"/><rect x="907" y="548" width="1" height="34" fill="#54b987"/><rect x="914" y="548" width="1" height="23" fill="#54b987"/><rect x="921" y="548" width="1" height="14" fill="#54b987"/><rect x="928" y="548" width="1" height="14" fill="#54b987"/><rect x="935" y="548" width="1" height="8" fill="#54b987"/><rect x="942" y="545" width="1" height="4" fill="#ea5062"/><rect x="949" y="539" width="1" height="10" fill="#ea5062"/><rect x="956" y="534" width="1" height="15" fill="#ea5062"/><rect x="963" y="523" width="1" height="26" fill="#ea5062"/><rect x="970" y="506" width="1" height="43" fill="#ea5062"/><rect x="977" y="499" width="1" height="50" fill="#ea5062"/><rect x="984" y="496" width="1" height="53" fill="#ea5062"/><rect x="991" y="495" width="1" height="54" fill="#ea5062"/></g>
<polyline points="74.5,524.9 85.2,519.8 100.3,516.5 115.5,516.5 158.4,519.8 191.3,524.1 221.6,529.2 241.8,531.7 262.0,527.4 277.2,520.8 302.4,515.8 312.5,516.5 320.0,520.8 340.2,535.5 375.6,550.6 408.4,557.7 420.0,561.2 436.1,563.8 450.2,563.8 496.4,563.2 510.5,560.2 532.6,554.6 556.7,547.1 576.8,543.7 595.0,543.7 621.1,545.7 660.2,555.1 690.3,563.2 714.5,570.8 740.6,572.2 776.8,571.2 800.9,576.2 819.0,583.7 831.1,593.3 839.1,599.3 850.0,605.4 872.8,613.4 885.6,619.8 901.0,632.0 913.7,638.1 931.7,642.0 939.3,642.2 957.3,639.0 966.2,634.6 977.7,624.1 990.5,612.2" fill="none" stroke="#e1d400" stroke-width="1" shape-rendering="crispEdges"/>
<polyline points="74.5,512.2 85.2,508.2 95.3,509.7 107.9,514.0 120.5,519.1 140.7,520.8 158.4,521.6 171.0,524.9 188.7,527.4 198.9,530.4 226.6,534.2 241.8,532.4 251.9,527.4 264.5,514.8 274.6,510.2 287.3,513.2 297.4,511.5 310.0,516.5 320.1,535.5 332.6,549.4 340.2,554.4 352.8,556.2 375.6,561.2 395.8,559.5 420.0,567.9 436.1,568.3 446.1,565.8 458.2,560.2 464.2,562.6 470.3,563.2 494.4,563.2 508.5,557.2 524.6,549.8 536.6,544.1 546.7,540.5 570.8,540.5 580.9,542.5 597.0,545.1 609.0,545.1 617.1,548.2 629.1,554.6 654.1,559.1 676.2,569.2 690.3,575.2 706.4,576.8 722.5,573.6 742.6,572.2 770.8,569.6 774.8,570.2 780.8,574.2 796.9,585.3 807.0,589.3 815.0,595.3 823.0,607.4 831.1,616.4 839.1,619.5 862.0,618.0 867.8,620.5 878.0,626.3 888.3,637.3 900.7,654.5 916.0,647.5 921.9,646.1 935.1,646.4 942.4,640.2 955.6,632.9 961.4,627.1 968.7,611.0 976.0,600.7 990.6,583.9" fill="none" stroke="#e8e8e8" stroke-width="1" shape-rendering="crispEdges"/>
</svg>
<div class="t" style="left:964px;top:618px;font-size:33px;line-height:40px;color:#e4ecf8;letter-spacing:0.75px">FX678</div>
<div class="ll" style="top:13px">5577.41</div><div class="ll" style="top:69px">5379.67</div><div class="ll" style="top:125px">5181.94</div><div class="ll" style="top:181px">4984.20</div><div class="ll" style="top:238px">4786.47</div><div class="ll" style="top:294px">4588.74</div><div class="ll" style="top:350px">4391.00</div><div class="ll" style="top:406px">4193.27</div><div class="ll" style="top:485px">83.39</div><div class="ll" style="top:508px">48.10</div><div class="ll" style="top:531px">12.80</div><div class="ll" style="top:554px">-22.49</div><div class="ll" style="top:577px">-57.78</div><div class="ll" style="top:600px">-93.07</div><div class="ll" style="top:623px">-128.37</div><div class="rl" style="top:13px">5577.41</div><div class="rl" style="top:69px">5379.67</div><div class="rl" style="top:125px">5181.94</div><div class="rl" style="top:181px">4984.20</div><div class="rl" style="top:238px">4786.47</div><div class="rl" style="top:294px">4588.74</div><div class="rl" style="top:350px">4391.00</div><div class="rl" style="top:406px">4193.27</div><div class="rl" style="top:485px">83.39</div><div class="rl" style="top:508px">48.10</div><div class="rl" style="top:531px">12.80</div><div class="rl" style="top:554px">-22.49</div><div class="rl" style="top:577px">-57.78</div><div class="rl" style="top:600px">-93.07</div><div class="rl" style="top:623px">-128.37</div>
<div class="t" style="left:72px;top:1px;color:#e6e6e6">现货黄金</div>
<div class="t" style="left:125px;top:2px;color:#ff7010"><span style="display:inline-block;width:7px;overflow:hidden;vertical-align:top"><span style="margin-left:-7px">【</span></span>240分<span style="display:inline-block;width:6px;overflow:hidden;vertical-align:top;margin-left:2px">】</span></div>
<svg style="position:absolute;left:177px;top:6px" width="11" height="11" viewBox="0 0 11 11"><circle cx="5.5" cy="5.5" r="4.2" fill="none" stroke="#ff7010" stroke-width="0.9"/><line x1="1.3" y1="5.5" x2="9.7" y2="5.5" stroke="#ff7010" stroke-width="0.9"/><line x1="5.5" y1="1.3" x2="5.5" y2="9.7" stroke="#ff7010" stroke-width="0.9"/></svg>
<svg style="position:absolute;left:193px;top:0px" width="15" height="16" viewBox="0 0 15 16"><rect x="1.5" y="1.5" width="11" height="12" fill="#fff" stroke="#00008a" stroke-width="1.2"/><polyline points="2,9 4.5,6 6.5,4.5 8.5,7 10.5,5 12,5" fill="none" stroke="#f00" stroke-width="1"/><polyline points="2,12 4.5,9 6.5,7.5 8.5,10 10.5,8 12,8" fill="none" stroke="#00f" stroke-width="1"/><rect x="13" y="3" width="1" height="11" fill="#888"/><rect x="3" y="14" width="11" height="1" fill="#888"/></svg>
<div class="t" style="left:210px;top:2px;color:#e6e6e6;letter-spacing:0.2px">BOLL(20,2) MID:4460.72</div>
<div class="t" style="left:356px;top:2px;color:#d8cf1c;letter-spacing:-0.1px">UPPER:4690.25</div>
<div class="t" style="left:451px;top:2px;color:#d43cd6;letter-spacing:0px">LOWER:4231.19</div>

<div class="t" style="left:276px;top:52px;color:#ea5062;font-weight:bold;letter-spacing:0.15px">5419.01</div>
<div class="t" style="left:331px;top:187px;color:#54b987;font-weight:bold;letter-spacing:0.2px">4996.33</div>
<div class="t" style="left:905px;top:442px;color:#54b987;font-weight:bold;letter-spacing:0.2px">4099.02</div>

<div class="t" style="left:1025px;top:159px;width:67px;height:16px;background:#000;color:#e39a3a;padding-left:2px;box-sizing:border-box">5095.81</div>
<div class="t" style="left:1024px;top:306px;width:68px;height:18px;background:#000;border:1px solid #e39a3a;border-right:none;box-sizing:border-box;color:#e39a3a;padding-left:2px;line-height:16px">4578.73</div>
<svg style="position:absolute;left:1084px;top:298px" width="9" height="8" viewBox="0 0 9 8"><rect x="0" y="0" width="9" height="8" fill="#000"/><polygon points="4,0.3 8,4 0,4" fill="#e39a3a"/><polygon points="4,4 8,8 0,8" fill="#e39a3a"/></svg>

<svg style="position:absolute;left:0px;top:465px" width="20" height="26" viewBox="0 465 20 26"><g fill="#f00" shape-rendering="crispEdges"><rect x="8" y="472" width="1" height="2"/><rect x="8" y="484" width="1" height="2"/><rect x="2" y="478" width="2" height="1"/><rect x="14" y="478" width="2" height="1"/><rect x="3" y="473" width="1" height="1"/><rect x="4" y="474" width="1" height="1"/><rect x="14" y="473" width="1" height="1"/><rect x="13" y="474" width="1" height="1"/><rect x="3" y="484" width="1" height="1"/><rect x="4" y="483" width="1" height="1"/><rect x="14" y="484" width="1" height="1"/><rect x="13" y="483" width="1" height="1"/></g><circle cx="8.8" cy="479.1" r="4.3" fill="#000"/><circle cx="8.8" cy="479.1" r="3.3" fill="#fff"/><circle cx="8.8" cy="479.1" r="2" fill="#f00"/></svg>

<div class="t" style="left:72px;top:474px;color:#e6e6e6;letter-spacing:0.2px">MACD(26,12,9) DIFF:-53.82</div>
<div class="t" style="left:234px;top:474px;color:#d8cf1c;letter-spacing:0.1px">DEA:-95.52</div>
<div class="t" style="left:305px;top:474px;color:#d43cd6;letter-spacing:0.2px">MACD:83.39</div>

<div class="t" style="left:10px;top:657px;color:#ff6a00;font-weight:bold">240分</div><svg style="position:absolute;left:48px;top:662px" width="10" height="9" viewBox="48 662 10 9"><polygon points="52.9,662.3 57.2,670 48.6,670" fill="#ff6a00"/></svg>
<div class="t" style="left:76px;top:656px;color:#f0f0f0;font-weight:bold">02/24</div>
<div class="t" style="left:243px;top:656px;color:#f0f0f0;font-weight:bold">02/28</div>
<div class="t" style="left:412px;top:656px;color:#f0f0f0;font-weight:bold">03/0</div>
<div class="t" style="left:438px;top:656px;width:163px;height:17px;background:#080808;color:#e8a040;padding-left:2px;box-sizing:border-box;letter-spacing:0.35px">2026/03/06 15:00～19:00 五</div>
<div class="t" style="left:604px;top:656px;color:#f0f0f0;font-weight:bold">2</div>
<div class="t" style="left:747px;top:656px;color:#f0f0f0;font-weight:bold">03/18</div>
<div class="t" style="left:915px;top:656px;color:#f0f0f0;font-weight:bold">03/24</div>


<svg style="position:absolute;left:959px;top:0px" width="67" height="17" viewBox="0 0 67 17" shape-rendering="crispEdges">
<g fill="#000"><rect x="1" y="0" width="16" height="16"/><rect x="17" y="0" width="16" height="16"/><rect x="33" y="0" width="16" height="16"/><rect x="49" y="0" width="16" height="16"/></g>
<g fill="none" stroke="#b4b4b4" stroke-width="1"><rect x="2.5" y="1.5" width="13" height="13"/><rect x="18.5" y="1.5" width="13" height="13"/><rect x="34.5" y="1.5" width="13" height="13"/><rect x="50.5" y="1.5" width="13" height="13"/></g>
<g fill="#b4b4b4">
<rect x="8" y="3" width="2" height="3"/><rect x="8" y="7" width="2" height="2"/><rect x="4" y="7" width="3" height="2"/><rect x="11" y="7" width="3" height="2"/><rect x="8" y="10" width="2" height="3"/>
<rect x="21" y="4" width="1" height="8"/><rect x="20" y="4" width="3" height="1"/><rect x="21" y="3" width="1" height="1"/>
<rect x="20" y="11" width="10" height="1"/><rect x="29" y="10" width="1" height="3"/><rect x="20" y="10" width="1" height="3"/>
<rect x="24" y="4" width="1" height="6"/><polygon points="25,7 28,4 28,10"/>
<rect x="37" y="4" width="1" height="8"/><rect x="36" y="4" width="3" height="1"/><rect x="37" y="3" width="1" height="1"/>
<rect x="36" y="11" width="10" height="1"/><rect x="45" y="10" width="1" height="3"/><rect x="36" y="10" width="1" height="3"/>
<polygon points="40,4 45,7.5 40,11"/>
<rect x="55" y="7" width="6" height="1"/><polygon points="58,5 61.5,7.5 58,10"/>
</g>
<rect x="52.5" y="3.5" width="3" height="9" fill="none" stroke="#b4b4b4"/>
</svg>
</body></html>
